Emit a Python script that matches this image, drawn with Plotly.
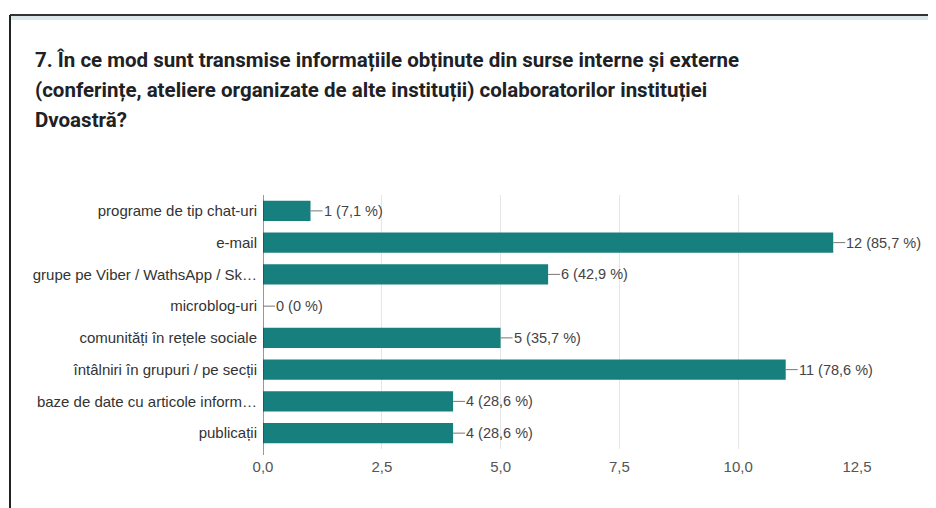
import plotly.graph_objects as go

categories = [
    "programe de tip chat-uri",
    "e-mail",
    "grupe pe Viber / WathsApp / Sk…",
    "microblog-uri",
    "comunități în rețele sociale",
    "întâlniri în grupuri / pe secții",
    "baze de date cu articole inform…",
    "publicații",
]
counts = [1, 12, 6, 0, 5, 11, 4, 4]
percent_labels = ["7,1 %", "85,7 %", "42,9 %", "0 %", "35,7 %", "78,6 %", "28,6 %", "28,6 %"]
tick_values = [0, 2.5, 5, 7.5, 10, 12.5]
tick_labels = ["0,0", "2,5", "5,0", "7,5", "10,0", "12,5"]
title_lines = [
    "7. În ce mod sunt transmise informațiile obținute din surse interne și externe",
    "(conferințe, ateliere organizate de alte instituții) colaboratorilor instituției",
    "Dvoastră?",
]

OFF = 8  # page body margin
W, H = 936 - OFF, 508 - OFF
PX0, PX1, PY0, PY1 = 263, 857, 195, 449  # plot area in window pixels
L, T = PX0 - OFF, PY0 - OFF
PW, PH = PX1 - PX0, PY1 - PY0
R, B = W - L - PW, H - T - PH

def px_x(x):
    return (x - PX0) / PW

def px_y(y):
    return 1 - (y - PY0) / PH

BAR = "#17807e"
LABEL_FONT = "Liberation Sans, Arial"

fig = go.Figure()
fig.add_trace(go.Bar(
    x=counts, y=categories, orientation="h",
    marker=dict(color=BAR, line=dict(width=0)),
    width=0.63, hoverinfo="skip",
))

for c, v, p in zip(categories, counts, percent_labels):
    fig.add_annotation(
        x=v, y=c, xref="x", yref="y",
        text=f"{v} ({p})", showarrow=True, arrowhead=0, arrowwidth=1,
        arrowcolor="#777", ax=12, ay=0, xanchor="left", yanchor="middle",
        font=dict(family=LABEL_FONT, size=14.5, color="#444"),
        standoff=0, borderpad=0,
    )

for i, line in enumerate(title_lines):
    fig.add_annotation(
        x=px_x(33), y=px_y(60 + 30 * i), xref="paper", yref="paper",
        text=line, showarrow=False, xanchor="left", yanchor="middle",
        font=dict(family="Roboto, Arial", size=20.5, color="#202124", weight="bold"),
    )

# card frame
fig.add_shape(type="line", xref="paper", yref="paper",
              x0=px_x(10), x1=px_x(940), y0=px_y(15), y1=px_y(15),
              line=dict(color="#333", width=2))
fig.add_shape(type="rect", xref="paper", yref="paper",
              x0=px_x(11), x1=px_x(940), y0=px_y(16), y1=px_y(20),
              line=dict(width=0), fillcolor="#dbe6ea")
fig.add_shape(type="line", xref="paper", yref="paper",
              x0=px_x(10), x1=px_x(10), y0=px_y(15), y1=px_y(515),
              line=dict(color="#222", width=2))
# zero line extending a bit below
fig.add_shape(type="line", xref="x", yref="paper",
              x0=0, x1=0, y0=1, y1=px_y(455),
              line=dict(color="#333", width=1))

fig.update_layout(
    width=W, height=H,
    margin=dict(l=L, r=R, t=T, b=B),
    paper_bgcolor="white", plot_bgcolor="white",
    showlegend=False,
    xaxis=dict(
        range=[0, 12.5], tickvals=tick_values, ticktext=tick_labels,
        showgrid=True, gridcolor="#e6e6e6", gridwidth=1,
        zeroline=False, showline=False, ticks="",
        ticklabelstandoff=7,
        tickfont=dict(family=LABEL_FONT, size=15, color="#555"),
        fixedrange=True,
    ),
    yaxis=dict(
        autorange="reversed", showgrid=False, zeroline=False,
        showline=False, ticks="", ticklabelstandoff=5,
        tickfont=dict(family=LABEL_FONT, size=15, color="#333"),
        fixedrange=True,
    ),
)

fig.write_html("out.html")
